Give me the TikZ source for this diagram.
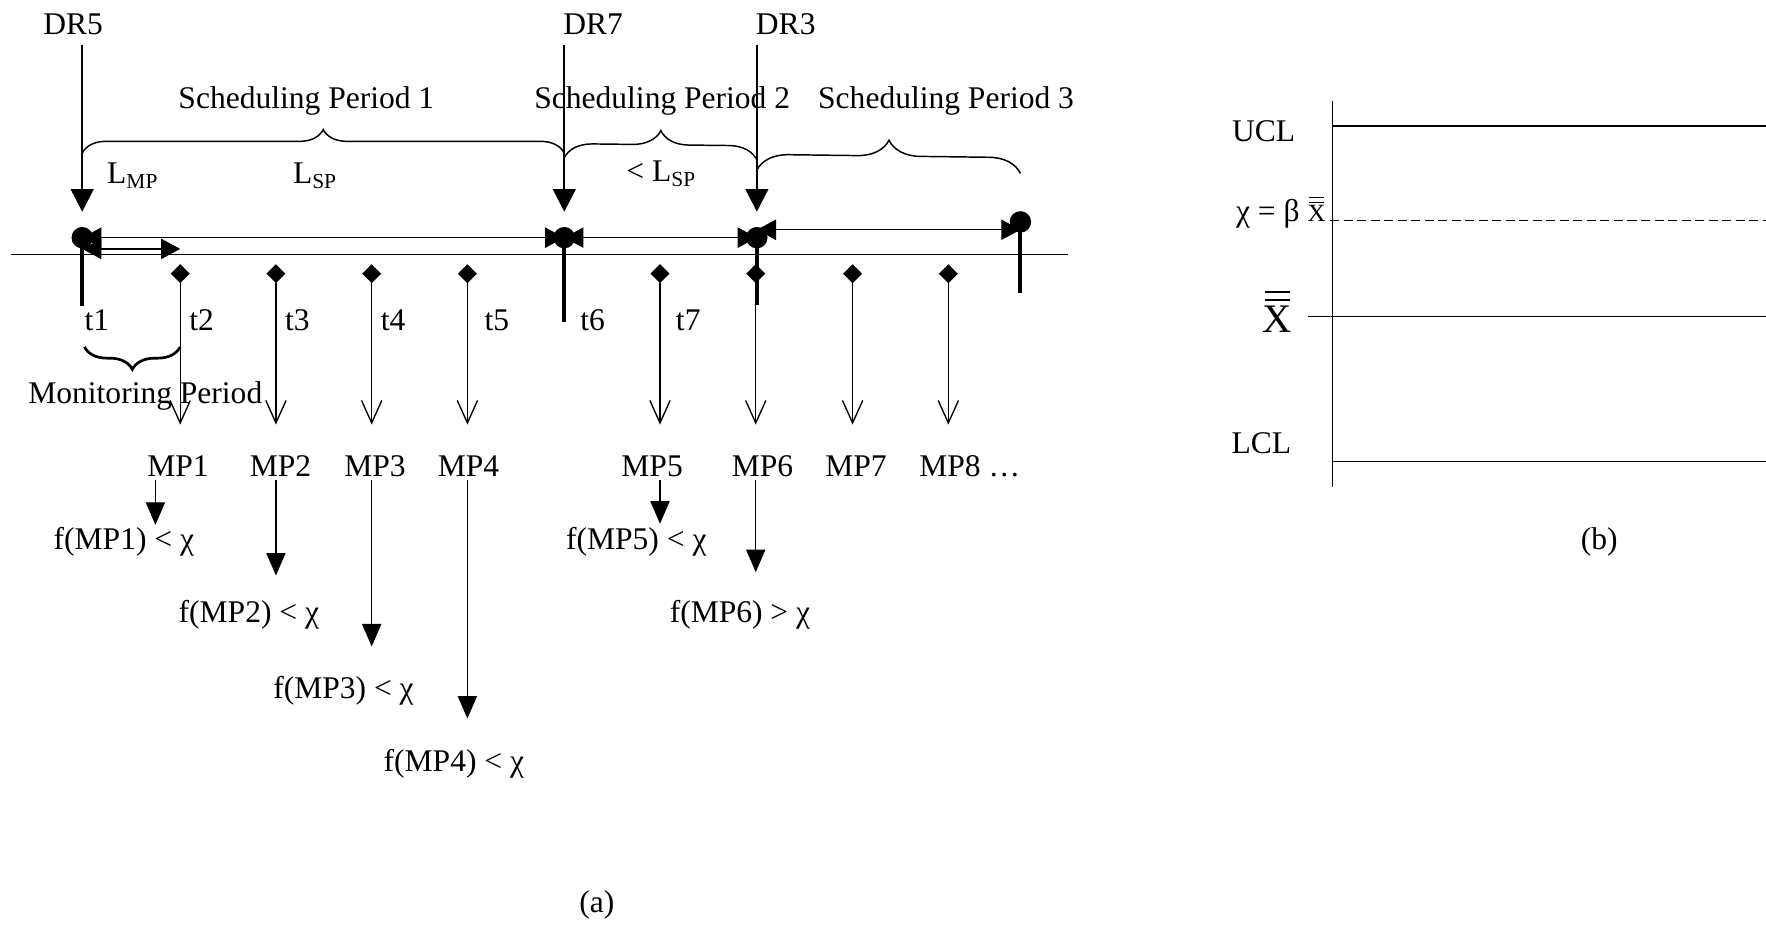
\documentclass[tikz,border=0pt]{standalone}
\usepackage{fontspec}
\setmainfont{Liberation Serif}
\usetikzlibrary{arrows.meta, positioning, shapes.geometric, decorations.pathreplacing}

\newcommand{\Lsub}[1]{L\raisebox{-0.16em}{\fontsize{19}{19}\selectfont #1}}
\newcommand{\dblbar}[1]{\setbox0\hbox{#1}%
  \rlap{\kern0.08\wd0\rule[1.17\ht0]{0.84\wd0}{0.07\ht0}}%
  \rlap{\kern0.08\wd0\rule[1.47\ht0]{0.84\wd0}{0.07\ht0}}%
  \box0}

\begin{document}
\begin{tikzpicture}[x=1pt, y=-1pt, font=\fontsize{28}{32}\selectfont,
  txt/.style={inner sep=0pt, anchor=base},
  txtw/.style={inner sep=0pt, anchor=base west},
  dot/.style={circle, fill, inner sep=0pt, minimum size=19pt},
  diam/.style={diamond, fill, inner sep=0pt, minimum width=17pt, minimum height=17pt},
  axisline/.style={line width=1.2pt},
  drline/.style={line width=2pt, -{Triangle[width=20pt,length=20pt]}},
  interval/.style={line width=1.2pt, {Triangle[width=18pt,length=17pt]}-{Triangle[width=18pt,length=17pt]}},
  probe/.style={line width=1.2pt, -{Straight Barb[width=18pt,length=20pt]}},
  result/.style={line width=1.2pt, -{Triangle[width=17pt,length=20pt]}},
  stick/.style={line width=3.5pt},
  period/.style={line width=1.3pt, decorate, decoration={brace, amplitude=#1}}]
  \useasboundingbox (0,0) rectangle (1568,824);

  % (a) time line
  \coordinate (axL) at (10,226);
  \coordinate (axR) at (948,226);
  \draw[axisline] (axL) -- (axR);

  \coordinate (p5) at (73,211);
  \coordinate (p7) at (501,211);
  \coordinate (p3) at (672,211);
  \coordinate (pE) at (906,197);

  % thick ticks
  \coordinate (q5) at (73,272);
  \coordinate (q7) at (501,286);
  \coordinate (q3) at (672,271);
  \coordinate (qE) at (906,260);
  \draw[stick] (p5) -- (q5);
  \draw[stick] (p7) -- (q7);
  \draw[stick] (p3) -- (q3);
  \draw[stick] (pE) -- (qE);

  % monitoring points
  \foreach \x [count=\i] in {160,245,330,415,586,671,757,842} {
    \node[diam] (m\i) at (\x,243) {};
    \coordinate (v\i) at (\x,377);
    \draw[probe] (m\i.south) -- (v\i);
  }

  % intervals
  \coordinate (s3a) at (672,204);
  \coordinate (s3b) at (906,204);
  \coordinate (l1) at (73,221);
  \coordinate (l2) at (160,221);
  \draw[interval] (p5) -- (p7);
  \draw[interval] (p7) -- (p3);
  \draw[interval] (s3a) -- (s3b);
  \draw[interval] (l1) -- (l2);

  % decision requests
  \node[txt] (dr5) at (65,31) {DR5};
  \node[txtw] (dr7) at (500,31) {DR7};
  \node[txtw] (dr3) at (671,31) {DR3};
  \foreach \n/\x in {5/73, 7/501, 3/672} {
    \coordinate (top\n) at (\x,40);
    \coordinate (tip\n) at (\x,188);
    \draw[drline] (top\n) -- (tip\n);
  }

  \node[dot] (d5) at (p5) {};
  \node[dot] (d7) at (p7) {};
  \node[dot] (d3) at (p3) {};
  \node[dot] (dE) at (pE) {};

  % scheduling periods
  \coordinate (b1a) at (73,136);
  \coordinate (b1b) at (501,136);
  \coordinate (b2a) at (501,140);
  \coordinate (b2b) at (672,142);
  \coordinate (b3a) at (672,151);
  \coordinate (b3b) at (906,154);
  \draw[period=21pt] (b1a) -- (b1b);
  \draw[period=25pt] (b2a) -- (b2b);
  \draw[period=28pt] (b3a) -- (b3b);
  \node[txt] (sp1) at (272,96) {Scheduling Period 1};
  \node[txt] (sp2) at (588,96) {Scheduling Period 2};
  \node[txt] (sp3) at (840,96) {Scheduling Period 3};
  \node[txtw] (lmp) at (95,163) {\Lsub{MP}};
  \node[txtw] (lsp) at (260,163) {\Lsub{SP}};
  \node[txtw] (lsp2) at (556,161) {< \Lsub{SP}};

  % time labels
  \foreach \x [count=\i] in {75,168,253,338,430,515,600}
    \node[txtw] (t\i) at (\x,293) {t\i};

  \coordinate (mpa) at (160,308);
  \coordinate (mpb) at (75,308);
  \draw[period=20pt, line width=2.4pt] (mpa) -- (mpb);
  \node[txtw] (mon) at (25,358) {Monitoring Period};

  % monitoring period results
  \foreach \mx/\name [count=\i] in {158/MP1, 249/MP2, 333/MP3, 416/MP4, 579/MP5, 677/MP6, 760/MP7, 861/MP8 …}
    \node[txt, outer ysep=3pt] (mp\i) at (\mx,423) {\name};
  \foreach \ax/\tip/\fx/\fy/\cmp [count=\i] in {138/466/110/488/<, 245/511/221/553/<, 330/574/305/620/<, 415/638/403/685/<, 586/465/565/488/<, 671/508/657/553/>} {
    \coordinate (e\i) at (\ax,\tip);
    \draw[result] (mp\i.south -| e\i) -- (e\i);
    \node[txt] (f\i) at (\fx,\fy) {f(MP\i) \cmp{} χ};
  }
  \node[txt] (capa) at (530,810) {(a)};

  % (b) control chart
  \coordinate (ya) at (1183,90);
  \coordinate (yb) at (1183,432);
  \draw[axisline] (ya) -- (yb);
  \draw[axisline] (1183,112) -- (1568,112);
  \draw[axisline, dash pattern=on 8pt off 4pt] (1181,196) -- (1568,196);
  \draw[axisline] (1161,281) -- (1568,281);
  \draw[axisline] (1183,410) -- (1568,410);
  \node[txt] (ucl) at (1122,126) {UCL};
  \node[txt, anchor=base east] (chi) at (1177,197) {χ = β \dblbar{\fontsize{22}{22}\selectfont X}};
  \node[txt] (xbb) at (1134,295) {\fontsize{36}{40}\selectfont\dblbar{X}};
  \node[txt] (lcl) at (1120,403) {LCL};
  \node[txt] (capb) at (1420,488) {(b)};
\end{tikzpicture}
\end{document}
